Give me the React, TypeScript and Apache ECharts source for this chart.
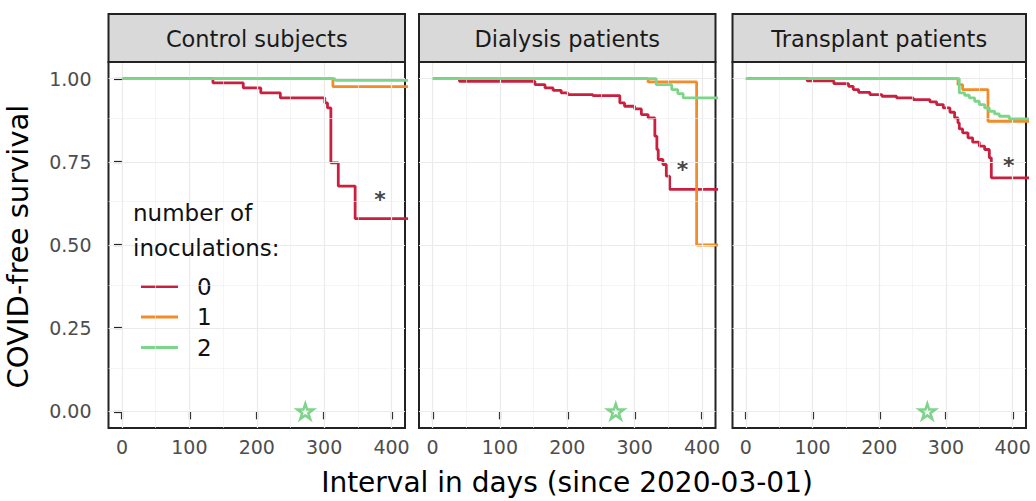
import React, { useEffect, useRef } from 'react';
import * as echarts from 'echarts';

const FONT = '"DejaVu Sans", sans-serif';

// ---- axis ticks / grid values ----
const X_TICKS = [0, 100, 200, 300, 400];
const X_MINOR = [50, 150, 250, 350];
const Y_TICKS = [0, 0.25, 0.5, 0.75, 1];
const Y_MINOR = [0.125, 0.375, 0.625, 0.875];

// ---- facets and groups ----
const PANELS = ['Control subjects', 'Dialysis patients', 'Transplant patients'];
const GROUPS = ['0', '1', '2'];
const COLORS = ['#C9203F', '#F28C28', '#7CD68A'];

// ---- Control subjects ----
const controlT0 = [0, 135, 180, 206, 235, 301, 305, 310, 321, 346, 425];
const controlS0 = [1, 0.987, 0.972, 0.957, 0.942, 0.927, 0.912, 0.747, 0.677, 0.579, 0.579];
const controlT1 = [0, 313, 425];
const controlS1 = [1, 0.976, 0.976];
const controlT2 = [0, 316, 425];
const controlS2 = [1, 0.995, 0.995];

// ---- Dialysis patients ----
const dialysisT0 = [0, 40, 152, 167, 179, 191, 201, 238, 278, 285, 300, 310, 320, 330, 333, 335, 342, 347, 352, 425];
const dialysisS0 = [1, 0.992, 0.982, 0.972, 0.965, 0.957, 0.952, 0.949, 0.927, 0.917, 0.909, 0.892, 0.882, 0.827, 0.787, 0.757, 0.742, 0.707, 0.667, 0.667];
const dialysisT1 = [0, 320, 392, 425];
const dialysisS1 = [1, 0.99, 0.5, 0.5];
const dialysisT2 = [0, 332, 355, 364, 372, 425];
const dialysisS2 = [1, 0.982, 0.967, 0.955, 0.942, 0.942];

// ---- Transplant patients ----
const transplantT0 = [0, 92, 132, 154, 161, 169, 186, 204, 226, 251, 276, 286, 296, 306, 313, 318, 320, 325, 333, 340, 350, 358, 365, 368, 425];
const transplantS0 = [1, 0.993, 0.985, 0.977, 0.967, 0.959, 0.952, 0.947, 0.942, 0.937, 0.93, 0.922, 0.912, 0.899, 0.882, 0.867, 0.849, 0.837, 0.822, 0.809, 0.797, 0.787, 0.762, 0.702, 0.702];
const transplantT1 = [0, 318, 325, 363, 425];
const transplantS1 = [1, 0.982, 0.967, 0.872, 0.872];
const transplantT2 = [0, 320, 328, 335, 343, 350, 358, 365, 373, 380, 395, 425];
const transplantS2 = [1, 0.957, 0.95, 0.942, 0.932, 0.922, 0.912, 0.902, 0.894, 0.887, 0.879, 0.879];

// ---- annotations ----
const ASTERISK_DAY = [383, 371, 394];
const ASTERISK_SURV = [0.652, 0.742, 0.755];
const VACCINE_DAY = [272, 272, 272];
const VACCINE_SURV = [0, 0, 0];

const CURVES = [
  [[controlT0, controlS0], [controlT1, controlS1], [controlT2, controlS2]],
  [[dialysisT0, dialysisS0], [dialysisT1, dialysisS1], [dialysisT2, dialysisS2]],
  [[transplantT0, transplantS0], [transplantT1, transplantS1], [transplantT2, transplantS2]],
];

const GRID_LEFT = [108.5, 419, 732.5];
const GRID_WIDTH = [296.5, 296.5, 293.5];
const GRID_TOP = 62;
const GRID_HEIGHT = 366;

const STAR_PATH =
  'path://M50,2 L61.2,36.5 L97.6,36.5 L68.2,57.9 L79.4,92.5 L50,71.1 L20.6,92.5 L31.8,57.9 L2.4,36.5 L38.8,36.5 Z';

function buildOption() {
  const grid = PANELS.map((_, i) => ({
    left: GRID_LEFT[i],
    top: GRID_TOP,
    width: GRID_WIDTH[i],
    height: GRID_HEIGHT,
    show: true,
    borderColor: '#222222',
    borderWidth: 2,
    backgroundColor: '#ffffff',
  }));

  const xAxis = PANELS.map((_, i) => ({
    type: 'value',
    gridIndex: i,
    min: -20,
    max: 420,
    axisLine: { show: false },
    splitLine: { show: false },
    axisTick: {
      show: true,
      customValues: X_TICKS,
      length: 8,
      lineStyle: { color: '#222222', width: 2.2 },
    },
    axisLabel: {
      customValues: X_TICKS,
      color: '#4D4D4D',
      fontSize: 19,
      fontFamily: FONT,
      margin: 9,
    },
  }));

  const yAxis = PANELS.map((_, i) => ({
    type: 'value',
    gridIndex: i,
    min: -0.05,
    max: 1.05,
    axisLine: { show: false },
    splitLine: { show: false },
    axisTick: {
      show: i === 0,
      customValues: Y_TICKS,
      length: 8,
      lineStyle: { color: '#222222', width: 2.2 },
    },
    axisLabel: {
      show: i === 0,
      customValues: Y_TICKS,
      color: '#4D4D4D',
      fontSize: 19,
      fontFamily: FONT,
      margin: 17,
      formatter: (v: number) => v.toFixed(2),
    },
  }));

  const series: any[] = [];
  PANELS.forEach((_, i) => {
    // background grid lines drawn through the axes' scales
    series.push({
      type: 'line',
      name: 'grid' + i,
      xAxisIndex: i,
      yAxisIndex: i,
      data: [],
      z: 1,
      silent: true,
      markLine: {
        silent: true,
        symbol: ['none', 'none'],
        label: { show: false },
        lineStyle: { color: '#EBEBEB', width: 1.2, type: 'solid' },
        emphasis: { disabled: true },
        data: [
          ...X_MINOR.map((v) => ({ xAxis: v, lineStyle: { width: 0.6, color: '#EFEFEF', type: 'solid' } })),
          ...Y_MINOR.map((v) => ({ yAxis: v, lineStyle: { width: 0.6, color: '#EFEFEF', type: 'solid' } })),
          ...X_TICKS.map((v) => ({ xAxis: v })),
          ...Y_TICKS.map((v) => ({ yAxis: v })),
        ],
      },
    });
    CURVES[i].forEach(([t, s], g) => {
      series.push({
        type: 'line',
        name: GROUPS[g],
        xAxisIndex: i,
        yAxisIndex: i,
        step: 'end',
        symbol: 'none',
        z: 3 + g,
        lineStyle: { color: COLORS[g], width: 2.8 },
        itemStyle: { color: COLORS[g] },
        data: t.map((d, k) => [d, s[k]]),
      });
    });
    series.push({
      type: 'scatter',
      name: 'asterisk' + i,
      xAxisIndex: i,
      yAxisIndex: i,
      symbolSize: 1,
      z: 7,
      itemStyle: { color: 'rgba(0,0,0,0)' },
      label: {
        show: true,
        position: 'inside',
        formatter: '*',
        fontSize: 22,
        fontWeight: 'bold',
        fontFamily: FONT,
        color: '#111111',
        offset: [0, 5],
      },
      data: [[ASTERISK_DAY[i], ASTERISK_SURV[i]]],
    });
    series.push({
      type: 'scatter',
      name: 'vaccine' + i,
      xAxisIndex: i,
      yAxisIndex: i,
      symbol: STAR_PATH,
      symbolKeepAspect: true,
      symbolSize: 16,
      z: 7,
      itemStyle: { color: 'rgba(0,0,0,0)', borderColor: '#5FC870', borderWidth: 2.5 },
      data: [[VACCINE_DAY[i], VACCINE_SURV[i]]],
    });
  });

  const graphic: any[] = [];
  PANELS.forEach((name, i) => {
    graphic.push({
      type: 'rect',
      shape: { x: GRID_LEFT[i], y: 14, width: GRID_WIDTH[i], height: 48 },
      style: { fill: '#D9D9D9', stroke: '#222222', lineWidth: 2 },
      z: 10,
    });
    graphic.push({
      type: 'text',
      x: GRID_LEFT[i] + GRID_WIDTH[i] / 2,
      y: 39,
      z: 11,
      style: {
        text: name,
        fontSize: 22.5,
        fontFamily: FONT,
        fill: '#1A1A1A',
        align: 'center',
        verticalAlign: 'middle',
      },
    });
  });
  graphic.push({
    type: 'text',
    x: 567,
    y: 482,
    style: {
      text: 'Interval in days (since 2020-03-01)',
      fontSize: 28,
      fontFamily: FONT,
      fill: '#000000',
      align: 'center',
      verticalAlign: 'middle',
    },
  });
  graphic.push({
    type: 'text',
    x: 17.5,
    y: 246.5,
    rotation: Math.PI / 2,
    style: {
      text: 'COVID-free survival',
      fontSize: 29,
      fontFamily: FONT,
      fill: '#000000',
      align: 'center',
      verticalAlign: 'middle',
    },
  });
  graphic.push({
    type: 'text',
    x: 133,
    y: 213,
    z: 12,
    style: { text: 'number of', fontSize: 23, fontFamily: FONT, fill: '#111111', align: 'left', verticalAlign: 'middle' },
  });
  graphic.push({
    type: 'text',
    x: 133,
    y: 248,
    z: 12,
    style: { text: 'inoculations:', fontSize: 23, fontFamily: FONT, fill: '#111111', align: 'left', verticalAlign: 'middle' },
  });

  return {
    animation: false,
    backgroundColor: '#ffffff',
    grid,
    xAxis,
    yAxis,
    series,
    graphic,
    legend: {
      data: GROUPS,
      orient: 'vertical',
      left: 136,
      top: 270,
      icon: 'rect',
      itemWidth: 37,
      itemHeight: 3,
      itemGap: 7.5,
      selectedMode: false,
      textStyle: {
        fontSize: 23,
        lineHeight: 23,
        fontFamily: FONT,
        color: '#111111',
        padding: [0, 0, 0, 14],
      },
    },
  };
}

export default function App() {
  const ref = useRef<HTMLDivElement>(null);
  useEffect(() => {
    if (!ref.current) return;
    const chart = echarts.init(ref.current, null, { renderer: 'svg' });
    chart.setOption(buildOption() as any);
    return () => chart.dispose();
  }, []);
  return (
    <div
      ref={ref}
      style={{ position: 'fixed', left: 0, top: 0, width: 1036, height: 501, background: '#ffffff' }}
    />
  );
}
